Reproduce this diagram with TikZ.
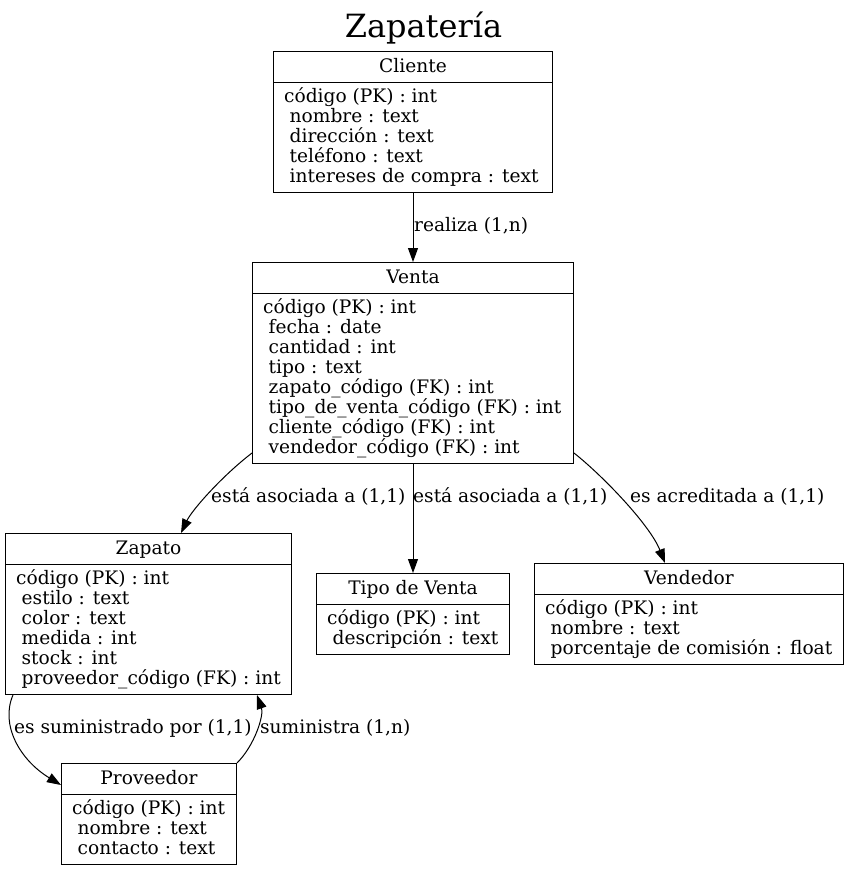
\documentclass[tikz,border=0pt]{standalone}
\usepackage{fontspec}
\setmainfont{DejaVu Serif}
\usetikzlibrary{arrows.meta,calc}
\newcommand\attrsp{\hspace*{5.5pt}}
\newcommand\erbox[7]{%
  \node[ent, minimum width=#4pt, minimum height=#5pt] (#1) at (#2,#3) {};
  \draw[sep] ($(#1.north west)+(0,-31pt)$) -- ($(#1.north east)+(0,-31pt)$);
  \node[hd] (#1-t) at ($(#1.north)+(0,-21pt)$) {#6};
  \node[bd] (#1-b) at ($(#1.south west)+(11pt,10.5pt)$) {#7};
}
\tikzset{
  ent/.style={draw, line width=1pt, inner sep=0pt, anchor=north west},
  sep/.style={line width=1pt},
  hd/.style={font=\fontsize{18.6}{20}\selectfont, inner sep=0pt, anchor=base},
  bd/.style={font=\fontsize{18.6}{20}\selectfont, inner sep=0pt, anchor=base west, align=left},
  lbl/.style={font=\fontsize{18.6}{20}\selectfont, inner sep=0pt, anchor=base west},
  conn/.style={line width=1pt, -{Triangle[length=14pt,width=10pt]}},
}
\begin{document}
\begin{tikzpicture}[x=1pt,y=-1pt]
\useasboundingbox (0,0) rectangle (849,871);
\node[font=\fontsize{32}{36}\selectfont, inner sep=0pt, anchor=base] (title) at (423.5,37) {Zapatería};

\erbox{cli}{273}{51}{279}{141}{Cliente}{código (PK) : int\\\attrsp nombre : text\\\attrsp dirección : text\\\attrsp teléfono : text\\\attrsp intereses de compra : text}
\erbox{ven}{252}{262}{321}{201}{Venta}{código (PK) : int\\\attrsp fecha : date\\\attrsp cantidad : int\\\attrsp tipo : text\\\attrsp zapato\_código (FK) : int\\\attrsp tipo\_de\_venta\_código (FK) : int\\\attrsp cliente\_código (FK) : int\\\attrsp vendedor\_código (FK) : int}
\erbox{zap}{5}{533}{286}{161}{Zapato}{código (PK) : int\\\attrsp estilo : text\\\attrsp color : text\\\attrsp medida : int\\\attrsp stock : int\\\attrsp proveedor\_código (FK) : int}
\erbox{tdv}{316}{573}{193}{81}{Tipo de Venta}{código (PK) : int\\\attrsp descripción : text}
\erbox{vnd}{534}{563}{309}{101}{Vendedor}{código (PK) : int\\\attrsp nombre : text\\\attrsp porcentaje de comisión : float}
\erbox{prv}{61}{763}{175}{101}{Proveedor}{código (PK) : int\\\attrsp nombre : text\\\attrsp contacto : text}

\draw[conn] (cli) -- (ven);
\draw[conn] (ven) -- (tdv);
\draw[conn] ($(ven.south west)+(0,11pt)$) .. controls (222,476) and (192,510) .. ($(zap.north west)+(176pt,0)$);
\draw[conn] ($(ven.south east)+(0,11pt)$) .. controls (603,476) and (650,525) .. ($(vnd.north west)+(131pt,0)$);
\draw[conn] ($(zap.south west)+(8pt,0)$) .. controls (0,725) and (20,760) .. ($(prv.north west)+(0,-22pt)$);
\draw[conn] (prv.north east) .. controls (255,745) and (264,715) .. ($(zap.south west)+(252pt,0)$);

\node[lbl] (l1) at (414,231) {realiza (1,n)};
\node[lbl] (l2) at (211,502) {está asociada a (1,1)};
\node[lbl] (l3) at (413,502) {está asociada a (1,1)};
\node[lbl] (l4) at (630,502) {es acreditada a (1,1)};
\node[lbl] (l5) at (14,733) {es suministrado por (1,1)};
\node[lbl] (l6) at (260,733) {suministra (1,n)};
\end{tikzpicture}
\end{document}
